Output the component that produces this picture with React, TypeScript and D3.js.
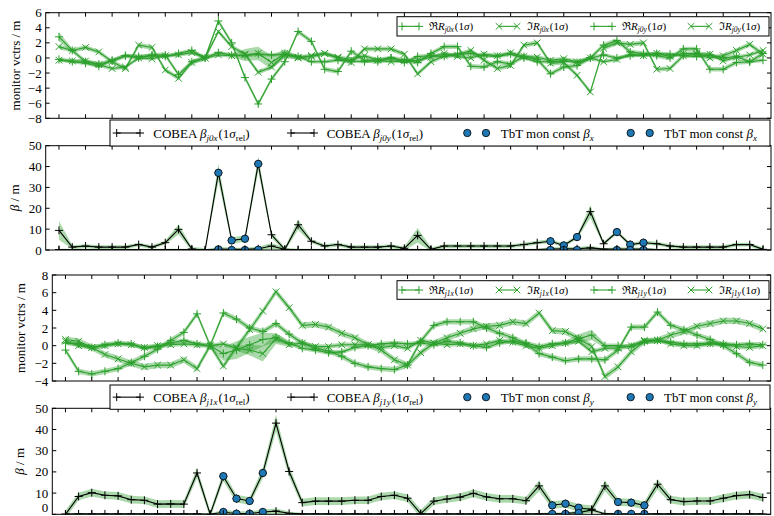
import React from 'react';
import * as d3 from 'd3';

// ---------- data ----------
const monitors = d3.range(54);
const xTickIdx = d3.range(0, 54, 2);

// panel 1 : monitor vectors R_j0
const reRj0x = [2.8, 1.0, -0.5, -0.8, -0.4, 0.3, 0.0, 0.4, 0.4, -2.2, -0.5, 0, 4.9, 2.0, -2.6, -6.1, -2.8, -0.5, 3.5, 2.2, -1.5, -1.8, 0.9, -0.3, -0.5, 0.0, -0.3, -0.6, 0.6, 1.5, 1.5, -1.1, -1.2, -0.5, -0.8, 0.2, -0.2, -2.1, -1.2, -1.0, 0.0, 1.7, 2.3, 0.8, 0.6, 0.3, 0.0, 1.2, 1.2, -1.5, -1.5, -0.6, -0.5, 0.6];
const imRj0x = [1.5, 1.0, 1.4, 0.8, -0.5, -1.4, 1.7, 1.4, -1.6, -2.7, -0.6, 0, 3.5, 1.5, 0.5, -1.9, -1.2, 0.4, 0.1, 0.2, 0.6, 0.0, -0.6, 1.2, 1.2, 1.2, 0.5, -2.1, -0.5, 0.3, 0.4, 1.0, -0.3, -1.4, -1.0, 1.7, 2.0, -0.7, -0.6, -2.3, -4.5, 1.3, 2.0, 1.8, 2.0, -1.5, -1.4, 0.3, 0.5, 0.0, 0.3, 1.0, 1.8, 0.5];
const reRj0y = [-0.2, -0.5, -0.7, -1.1, -0.3, 0.3, 0.2, 0.3, 0.2, 0.6, 1.0, 0, 0.7, 0.4, 0.3, 0.5, 0.4, 0.5, 0.2, -0.5, -0.5, -0.3, -0.4, -0.5, -0.2, 0.0, -0.6, 0.2, 0.3, 0.2, 0.5, 0.6, 0.3, 0.2, 0.5, 0.0, -0.5, -0.5, -0.4, -0.6, 0.0, 0.4, 0.0, 0.3, 0.4, 0.6, 0.5, 0.3, 0.2, 0.4, 0.0, 0.2, -0.5, -0.3];
const imRj0y = [-0.3, -0.4, -0.4, -0.9, -1.4, -1.2, 0.0, -0.1, 0.3, 0.4, 0.7, 0, 0.4, 0.3, 0.4, 0.6, -0.6, 0.6, 0.0, 0.3, 0.6, 0.1, -0.2, 0.3, -0.3, -0.5, -0.4, -0.3, 0.1, 0.6, 0.2, 0.0, 0.5, 0.3, 0.7, 0.2, 0.1, -0.3, -0.1, -0.5, 0.0, -0.5, -0.2, 0.5, 0.3, 0.6, 0.2, 0.6, 0.6, 0.5, -0.4, 0.1, 0.4, 1.0];

// panel 2 : beta j0
const betaJ0x = [9.4, 1.4, 1.9, 1.4, 1.4, 1.4, 2.6, 1.4, 3.5, 9.9, 0.5, 0, 37, 4.6, 5.4, 41.3, 7.3, 0.3, 12.1, 4.2, 1.9, 2.6, 1.4, 1.4, 1.4, 1.9, 0.8, 7.0, 0.3, 1.9, 1.9, 1.9, 1.9, 1.9, 1.9, 2.6, 3.5, 4.2, 2.2, 6.2, 18.4, 3.0, 8.6, 2.6, 3.5, 3.0, 1.9, 1.4, 1.4, 1.4, 1.4, 2.6, 2.6, 0.3];
const betaJ0y = [0.2, 0.2, 0.2, 0.2, 0.2, 0.2, 0.2, 0.2, 0.2, 0.2, 0.2, 0, 0.5, 0.3, 0.3, 0.6, 1.9, 0.3, 0.2, 0.2, 0.2, 0.2, 0.2, 0.2, 0.2, 0.2, 0.2, 0.2, 0.2, 0.2, 0.2, 0.2, 0.2, 0.2, 0.2, 0.2, 0.2, 0.5, 0.6, 0.6, 1.0, 0.4, 0.5, 0.4, 0.4, 0.2, 0.2, 0.2, 0.2, 0.2, 0.2, 0.2, 0.2, 0.2];
const tbtIdx = [12, 13, 14, 15, 37, 38, 39, 42, 43, 44];
const tbtBetaXa = [37, 4.6, 5.4, 41.3, 4.2, 2.2, 6.2, 8.6, 2.6, 3.5];
const tbtBetaXb = [0.3, 0, 0, 0.1, 0, 0, 0, 0, 0, 0];

// panel 3 : monitor vectors R_j1
const reRj1x = [-0.5, -2.9, -3.2, -2.9, -2.6, -1.9, -1.2, -0.4, 0.6, 1.5, 3.6, 0, 3.7, 3.0, 2.0, 1.6, 2.5, 1.3, 0.3, -0.3, -0.6, -1.2, -2.0, -2.4, -2.6, -2.7, -2.2, 0.5, 2.3, 2.7, 2.7, 2.7, 2.0, 1.4, 0.9, 0.2, -0.9, -1.3, -1.7, -1.5, -1.5, -1.6, -0.5, 2.1, 2.1, 3.8, 2.3, 1.8, 1.2, 0.7, 0.0, -0.9, -1.9, -2.2];
const imRj1x = [0.7, 0.5, -0.2, -1.0, -1.5, -2.0, -2.4, -2.2, -2.2, -1.6, -2.6, 0, -2.3, -0.2, 1.8, 3.9, 6.1, 4.3, 2.3, 2.4, 2.1, 1.4, 0.9, 0.1, -0.5, -1.6, -2.2, -0.8, 0.3, 0.9, 1.4, 1.9, 2.2, 2.3, 2.7, 2.5, 3.7, 1.7, 1.6, 0.8, -0.1, -3.5, -2.4, -0.7, 0.5, 0.6, 1.2, 1.6, 2.2, 2.5, 2.8, 2.8, 2.5, 1.9];
const reRj1y = [0.3, 0.2, -0.2, 0.1, 0.3, 0.2, -0.3, -0.1, 0.3, 0.6, 0.2, 0, -0.9, -0.5, 0.1, 0.7, 0.9, 0.3, -0.3, -0.5, -0.8, -0.7, -0.2, 0.0, 0.2, 0.3, 0.2, 0.3, 0.1, 0.5, 0.3, 0.0, -0.2, 0.3, 0.5, 0.3, -0.1, 0.2, 0.3, 0.8, 1.2, 0.0, 0.0, -0.1, 0.4, 0.6, 0.4, 0.2, 0.2, 0.3, 0.2, 0.1, 0.2, 0.1];
const imRj1y = [0.5, 0.0, -0.2, 0.0, 0.2, 0.1, -0.2, 0.0, 0.1, 0.2, 0.1, 0, 0.2, -0.3, -0.5, -0.9, 0.8, 0.1, 0.3, -0.1, -0.1, 0.1, 0.1, 0.1, -0.2, 0.0, -0.3, 0.6, 0.3, 0.1, 0.2, 0.0, 0.2, 0.6, 0.4, 0.0, -0.3, 0.0, 0.3, 0.5, -0.7, -0.3, -0.3, 0.0, 0.6, 0.6, 0.2, 0.0, 0.0, 0.2, 0.1, -0.1, -0.2, 0.0];

// panel 4 : beta j1
const betaJ1x = [0, 8.4, 10.2, 9.0, 8.7, 6.9, 6.6, 4.8, 4.9, 4.8, 19.5, 0, 17.8, 7.4, 6.3, 19.4, 43, 20.2, 5.5, 6.2, 6.2, 6.2, 6.6, 6.6, 8.4, 9.0, 7.6, 0.3, 6.2, 7.2, 8.1, 9.9, 8.2, 7.3, 7.3, 6.4, 13.4, 4.4, 5.0, 3.0, 2.4, 13.4, 5.8, 5.5, 4.2, 14.2, 6.9, 6.0, 6.3, 6.3, 7.6, 8.8, 9.3, 7.9];
const betaJ1y = [0.1, 0.2, 0.2, 0.2, 0.2, 0.2, 0.2, 0.2, 0.2, 0.2, 0.2, 0, 1.0, 0.4, 0.4, 1.1, 1.5, 0.5, 0.2, 0.2, 0.2, 0.2, 0.2, 0.2, 0.2, 0.2, 0.2, 0.2, 0.2, 0.2, 0.2, 0.2, 0.2, 0.2, 0.2, 0.2, 0.2, 0.4, 0.5, 0.8, 2.0, 0.3, 0.2, 0.2, 0.2, 0.2, 0.2, 0.2, 0.2, 0.2, 0.2, 0.2, 0.2, 0.2];
const tbtBetaYa = [18.0, 7.4, 6.3, 19.5, 4.2, 5.0, 3.1, 5.8, 5.5, 4.2];
const tbtBetaYb = [1.1, 0.3, 0.3, 1.1, 0.2, 0.2, 0.6, 0.2, 0.2, 0.2];

// uncertainties: base value plus individual [index, sigma] readings
const sigReRj0x: [number, [number, number][]] = [0.3, [[0, 0.6]]];
const sigImRj0x: [number, [number, number][]] = [0.3, []];
const sigReRj0y: [number, [number, number][]] = [0.25, []];
const sigImRj0y: [number, [number, number][]] = [0.25, [[14, 0.8], [15, 0.9], [16, 0.9], [17, 0.6]]];
const sigBetaJ0x: [number, [number, number][]] = [0.9, [[0, 4.5], [9, 2.5], [12, 4.2], [13, 1.5], [14, 1.5], [15, 3.5], [16, 1.5], [18, 2.5], [27, 3.5], [40, 3.0]]];
const sigBetaJ0y: [number, [number, number][]] = [0.4, [[12, 1.0], [13, 0.8], [14, 0.8], [15, 1.0], [16, 1.5], [17, 0.8], [37, 0.8], [38, 0.8], [39, 0.8], [40, 1.0], [42, 0.8], [43, 0.8], [44, 0.8]]];
const sigReRj1x: [number, [number, number][]] = [0.3, []];
const sigImRj1x: [number, [number, number][]] = [0.35, []];
const sigReRj1y: [number, [number, number][]] = [0.25, [[12, 0.8], [13, 1.0], [14, 0.9], [15, 0.8], [16, 0.5], [39, 0.5], [40, 0.6]]];
const sigImRj1y: [number, [number, number][]] = [0.25, [[14, 0.6], [15, 0.9], [16, 0.6]]];
const sigBetaJ1x: [number, [number, number][]] = [1.8, [[10, 2.5], [12, 2.2], [15, 2.5], [16, 4.0], [17, 2.5], [36, 2.5], [41, 2.5], [45, 2.5]]];
const sigBetaJ1y: [number, [number, number][]] = [0.4, [[12, 1.2], [13, 1.0], [14, 1.0], [15, 1.2], [16, 1.2], [17, 0.8], [39, 1.0], [40, 1.0]]];

const yTicksR0 = [-8, -6, -4, -2, 0, 2, 4, 6];
const yTicksBeta = [0, 10, 20, 30, 40, 50];
const yTicksR1 = [-4, -2, 0, 2, 4, 6, 8];

// ---------- style ----------
const GREEN = '#2ca02c';
const BAND = 'rgba(44,160,44,0.4)';
const BLUE = '#1f77b4';
const FONT = "'Liberation Serif', 'DejaVu Serif', serif";

const sigmaOf = (s: [number, [number, number][]]) => {
  const a = monitors.map(() => s[0]);
  s[1].forEach(([i, v]) => (a[i] = v));
  return a;
};

type Ser = { v: number[]; s: number[]; marker: 'plus' | 'cross'; color: string };

const plusPath = (x: number, y: number) => `M${x - 4},${y}H${x + 4}M${x},${y - 4}V${y + 4}`;
const crossPath = (x: number, y: number) =>
  `M${x - 3.3},${y - 3.3}L${x + 3.3},${y + 3.3}M${x - 3.3},${y + 3.3}L${x + 3.3},${y - 3.3}`;

const minus = (t: number) => (t < 0 ? '\u2212' + Math.abs(t) : String(t));

type PanelProps = {
  id: string;
  left: number; right: number; top: number; bottom: number;
  yDomain: [number, number]; yTicks: number[]; ylabel: React.ReactNode; ylabelX: number;
  series: Ser[];
  dots?: { idx: number[]; v: number[] }[];
};

function Panel(p: PanelProps) {
  const x = d3.scaleLinear().domain([-1, 53.6]).range([p.left, p.right]);
  const y = d3.scaleLinear().domain(p.yDomain).range([p.bottom, p.top]);
  const line = d3.line<number>().x((_, i) => x(monitors[i])).y((d) => y(d));
  return (
    <g>
      <defs>
        <clipPath id={p.id}>
          <rect x={p.left} y={p.top} width={p.right - p.left} height={p.bottom - p.top} />
        </clipPath>
      </defs>
      <g clipPath={`url(#${p.id})`}>
        {p.series.map((s, k) => {
          const area = d3
            .area<number>()
            .x((_, i) => x(monitors[i]))
            .y0((d, i) => y(d - s.s[i]))
            .y1((d, i) => y(d + s.s[i]));
          return <path key={'b' + k} d={area(s.v) || ''} fill={BAND} stroke="none" />;
        })}
        {p.series.map((s, k) => (
          <g key={'l' + k}>
            <path d={line(s.v) || ''} fill="none" stroke={s.color} strokeWidth={1.1} />
            <path
              d={s.v.map((d, i) => (s.marker === 'plus' ? plusPath(x(monitors[i]), y(d)) : crossPath(x(monitors[i]), y(d)))).join('')}
              fill="none"
              stroke={s.color}
              strokeWidth={1}
            />
          </g>
        ))}
        {(p.dots || []).map((ds, k) =>
          ds.idx.map((ix, j) => (
            <circle key={`d${k}-${j}`} cx={x(ix)} cy={y(ds.v[j])} r={3.7} fill={BLUE} stroke="#000" strokeWidth={0.8} />
          ))
        )}
      </g>
      <rect x={p.left} y={p.top} width={p.right - p.left} height={p.bottom - p.top} fill="none" stroke="#000" strokeWidth={1} />
      {xTickIdx.map((t) => (
        <g key={'xt' + t} stroke="#000" strokeWidth={1}>
          <line x1={x(t)} x2={x(t)} y1={p.top} y2={p.top + 4} />
          <line x1={x(t)} x2={x(t)} y1={p.bottom} y2={p.bottom - 4} />
        </g>
      ))}
      {p.yTicks.map((t) => (
        <g key={'yt' + t}>
          <line x1={p.left} x2={p.left + 4} y1={y(t)} y2={y(t)} stroke="#000" />
          <line x1={p.right} x2={p.right - 4} y1={y(t)} y2={y(t)} stroke="#000" />
          <text x={p.left - 4} y={Math.min(y(t), 507)} dy="0.35em" textAnchor="end" fontSize={13} fontFamily={FONT}>
            {minus(t)}
          </text>
        </g>
      ))}
      <text
        transform={`translate(${p.ylabelX},${(p.top + p.bottom) / 2}) rotate(-90)`}
        textAnchor="middle"
        dy="0.35em"
        fontSize={13}
        fontFamily={FONT}
      >
        {p.ylabel}
      </text>
    </g>
  );
}

const Sub = ({ t, size = 8, dy = 2.5 }: { t: string; size?: number; dy?: number }) => (
  <>
    <tspan fontSize={size} dy={dy} fontStyle="italic">{t}</tspan>
    <tspan dy={-dy}>{'\u200a'}</tspan>
  </>
);

function RLegend({ x0, x1, top, h, labels }: { x0: number; x1: number; top: number; h: number; labels: [string, string, string][] }) {
  const cy = top + h / 2;
  const mk = [[402, 419, 429], [499, 517, 527], [594, 612, 622], [691, 709, 719]];
  return (
    <g>
      <rect x={x0} y={top} width={x1 - x0} height={h} fill="#fff" stroke="#000" strokeWidth={1} />
      {labels.map((l, k) => {
        const [a, b, tx] = mk[k];
        const isPlus = l[2] === 'plus';
        return (
          <g key={k}>
            <line x1={a} x2={b} y1={cy} y2={cy} stroke={GREEN} strokeWidth={1.1} />
            <path d={isPlus ? plusPath(a, cy) + plusPath(b, cy) : crossPath(a, cy) + crossPath(b, cy)} stroke={GREEN} fill="none" />
            <text x={tx} y={cy} dy="0.35em" fontSize={11} fontFamily={FONT}>
              <tspan>{l[0]}</tspan>
              <tspan fontStyle="italic">R</tspan>
              <Sub t={l[1]} size={7.5} dy={2} />
              <tspan>(1</tspan>
              <tspan fontStyle="italic">σ</tspan>
              <tspan>)</tspan>
            </text>
          </g>
        );
      })}
    </g>
  );
}

function BetaLegend({ top, h, sub, tbtSub }: { top: number; h: number; sub: [string, string]; tbtSub: string }) {
  const cy = top + h / 2;
  return (
    <g fontFamily={FONT} fontSize={13}>
      <rect x={110} y={top} width={660} height={h} fill="#fff" stroke="#000" strokeWidth={1} />
      {[[116.7, 140, 153.3, sub[0]], [291, 314, 326.7, sub[1]]].map(([a, b, tx, s], k) => (
        <g key={'c' + k}>
          <line x1={a as number} x2={b as number} y1={cy} y2={cy} stroke="#000" strokeWidth={1.1} />
          <path d={plusPath(a as number, cy) + plusPath(b as number, cy)} stroke="#000" fill="none" />
          <text x={tx as number} y={cy} dy="0.35em">
            <tspan>COBEA </tspan>
            <tspan fontStyle="italic">β</tspan>
            <Sub t={s as string} size={9} dy={3} />
            <tspan>(1</tspan>
            <tspan fontStyle="italic">σ</tspan>
            <tspan fontSize={9} dy={3}>rel</tspan>
            <tspan dy={-3}>)</tspan>
          </text>
        </g>
      ))}
      {[[467.3, 486, 500.7], [630.7, 649.7, 664]].map(([a, b, tx], k) => (
        <g key={'t' + k}>
          <circle cx={a} cy={cy} r={3.7} fill={BLUE} stroke="#000" strokeWidth={0.8} />
          <circle cx={b} cy={cy} r={3.7} fill={BLUE} stroke="#000" strokeWidth={0.8} />
          <text x={tx} y={cy} dy="0.35em">
            <tspan>TbT mon const </tspan>
            <tspan fontStyle="italic">β</tspan>
            <Sub t={tbtSub} size={9} dy={3} />
          </text>
        </g>
      ))}
    </g>
  );
}

export default function App() {
  const sP = (v: number[], s: [number, [number, number][]], marker: 'plus' | 'cross', color = GREEN): Ser => ({
    v,
    s: sigmaOf(s),
    marker,
    color,
  });
  const betaLabel = (
    <>
      <tspan fontStyle="italic">β</tspan>
      <tspan> / m</tspan>
    </>
  );
  return (
    <svg width={774} height={516} style={{ position: 'absolute', left: 0, top: 0, background: '#fff' }}>
      <rect width={774} height={516} fill="#fff" />
      <Panel
        id="c1" left={45.7} right={771} top={12.7} bottom={118.3}
        yDomain={[-8, 6]} yTicks={yTicksR0} ylabel="monitor vctrs / m" ylabelX={15}
        series={[sP(reRj0x, sigReRj0x, 'plus'), sP(imRj0x, sigImRj0x, 'cross'), sP(reRj0y, sigReRj0y, 'plus'), sP(imRj0y, sigImRj0y, 'cross')]}
      />
      <RLegend x0={397} x1={769} top={16.7} h={19.3} labels={[['ℜ', 'j0x', 'plus'], ['ℑ', 'j0x', 'cross'], ['ℜ', 'j0y', 'plus'], ['ℑ', 'j0y', 'cross']]} />
      <Panel
        id="c2" left={45.7} right={771} top={145.7} bottom={250}
        yDomain={[0, 50]} yTicks={yTicksBeta} ylabel={betaLabel} ylabelX={14}
        series={[sP(betaJ0x, sigBetaJ0x, 'plus', '#000'), sP(betaJ0y, sigBetaJ0y, 'plus', '#000')]}
        dots={[{ idx: tbtIdx, v: tbtBetaXa }, { idx: tbtIdx, v: tbtBetaXb }]}
      />
      <BetaLegend top={120} h={26} sub={['j0x', 'j0y']} tbtSub="x" />
      <Panel
        id="c3" left={52.3} right={770.7} top={275} bottom={381}
        yDomain={[-4, 8]} yTicks={yTicksR1} ylabel="monitor vctrs / m" ylabelX={20}
        series={[sP(reRj1x, sigReRj1x, 'plus'), sP(imRj1x, sigImRj1x, 'cross'), sP(reRj1y, sigReRj1y, 'plus'), sP(imRj1y, sigImRj1y, 'cross')]}
      />
      <RLegend x0={397} x1={769} top={280.7} h={18.6} labels={[['ℜ', 'j1x', 'plus'], ['ℑ', 'j1x', 'cross'], ['ℜ', 'j1y', 'plus'], ['ℑ', 'j1y', 'cross']]} />
      <Panel
        id="c4" left={52.3} right={770.7} top={408.3} bottom={514.3}
        yDomain={[0, 50]} yTicks={yTicksBeta} ylabel={betaLabel} ylabelX={19}
        series={[sP(betaJ1x, sigBetaJ1x, 'plus', '#000'), sP(betaJ1y, sigBetaJ1y, 'plus', '#000')]}
        dots={[{ idx: tbtIdx, v: tbtBetaYa }, { idx: tbtIdx, v: tbtBetaYb }]}
      />
      <BetaLegend top={385} h={24.3} sub={['j1x', 'j1y']} tbtSub="y" />
    </svg>
  );
}
